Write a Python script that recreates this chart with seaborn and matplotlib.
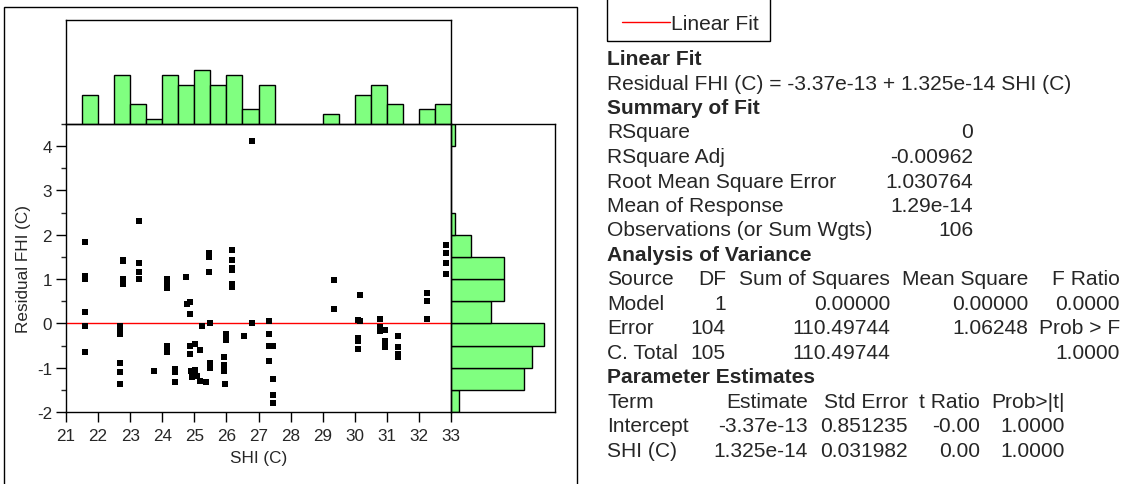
import numpy as np
import pandas as pd
import matplotlib
matplotlib.use("Agg")
import matplotlib.pyplot as plt
import seaborn as sns
from matplotlib.patches import Rectangle
from matplotlib.lines import Line2D
from matplotlib.ticker import MultipleLocator

# --- data ---
shi = [21.6, 21.6, 21.6, 21.6, 21.6, 21.6,
       22.78, 22.78, 22.78, 22.78, 22.67, 22.67, 22.67, 22.67, 22.67, 22.67,
       23.28, 23.28, 23.28, 23.28,
       23.74,
       24.14, 24.14, 24.14, 24.14, 24.14, 24.39, 24.39, 24.39,
       24.73, 24.76, 24.85, 24.85, 24.85, 24.85, 24.89, 24.94,
       25.02, 25.03, 25.07, 25.17, 25.18, 25.25, 25.37, 25.45, 25.45, 25.45,
       25.49, 25.49, 25.49,
       25.94, 25.94, 25.94, 25.96, 25.99, 25.99, 25.99,
       26.18, 26.18, 26.18, 26.18, 26.18, 26.18,
       26.54, 26.8, 26.8,
       27.34, 27.34, 27.34, 27.34, 27.44, 27.44, 27.44, 27.44,
       29.34, 29.34,
       30.09, 30.09, 30.09, 30.09, 30.15, 30.15,
       30.8, 30.8, 30.8, 30.8, 30.94, 30.94, 30.94,
       31.34, 31.34, 31.34, 31.34,
       32.24, 32.24, 32.24,
       32.84, 32.84, 32.84, 32.84]
resid = [1.84, 1.08, 1.0, 0.26, -0.07, -0.64,
         1.42, 1.40, 1.0, 0.9, -0.06, -0.11, -0.25, -0.9, -1.09, -1.37,
         2.31, 1.37, 1.15, 1.01,
         -1.08,
         1.01, 0.88, 0.8, -0.5, -0.64, -1.04, -1.09, -1.33,
         1.05, 0.44, 0.48, 0.22, -0.5, -0.68, -1.07, -1.22,
         -0.47, -1.05, -1.18, -0.61, -1.3, -0.07, -1.33, 1.59, 1.49, 1.15,
         0.0, -0.9, -1.0,
         -0.76, -0.94, -1.07, -1.37, -0.23, -0.32, -0.38,
         1.66, 1.44, 1.25, 1.21, 0.88, 0.82,
         -0.28, 4.11, 0.0,
         0.05, -0.25, -0.5, -0.86, -0.5, -1.26, -1.61, -1.8,
         0.97, 0.33,
         0.07, -0.32, -0.4, -0.57, 0.65, 0.05,
         0.11, -0.08, -0.12, -0.17, -0.14, -0.4, -0.53,
         -0.28, -0.53, -0.68, -0.76,
         0.69, 0.51, 0.11,
         1.77, 1.59, 1.37, 1.12]

# marginal histogram counts (bin start, 0.5 wide)
shi_bin_start = [21.5, 22.5, 23.0, 23.5, 24.0, 24.5, 25.0, 25.5, 26.0, 26.5, 27.0,
                 29.0, 30.0, 30.5, 31.0, 32.0, 32.5]
shi_counts = [6, 10, 4, 1, 10, 8, 11, 8, 10, 3, 8, 2, 6, 8, 4, 3, 4]
resid_bin_start = [-2.0, -1.5, -1.0, -0.5, 0.0, 0.5, 1.0, 1.5, 2.0, 4.0]
resid_counts = [2, 18, 20, 23, 10, 13, 13, 5, 1, 1]

intercept = -3.37e-13
slope = 1.325e-14
x_range = [21, 33]
y_range = [-2, 4.5]

summary_labels = ["RSquare", "RSquare Adj", "Root Mean Square Error",
                  "Mean of Response", "Observations (or Sum Wgts)"]
summary_values = ["0", "-0.00962", "1.030764", "1.29e-14", "106"]
anova_header = ["Source", "DF", "Sum of Squares", "Mean Square", "F Ratio"]
anova_rows = [["Model", "1", "0.00000", "0.00000", "0.0000"],
              ["Error", "104", "110.49744", "1.06248", "Prob > F"],
              ["C. Total", "105", "110.49744", "", "1.0000"]]
param_header = ["Term", "Estimate", "Std Error", "t Ratio", "Prob>|t|"]
param_rows = [["Intercept", "-3.37e-13", "0.851235", "-0.00", "1.0000"],
              ["SHI (C)", "1.325e-14", "0.031982", "0.00", "1.0000"]]

# --- style ---
sns.set_style("white")
plt.rcParams['font.family'] = ['Liberation Sans', 'DejaVu Sans']
plt.rcParams['axes.unicode_minus'] = False

W, H = 1127, 485
fig = plt.figure(figsize=(W / 100, H / 100), dpi=100)


def box(x0, y0, x1, y1):
    # pixel box (top-left origin) -> figure fraction rect
    return [x0 / W, 1 - y1 / H, (x1 - x0) / W, (y1 - y0) / H]


def pt(x, y):
    return x / W, 1 - y / H


green = "#80ff80"
lw = 1.0

ax = fig.add_axes(box(66, 125, 451, 413))
ax_top = fig.add_axes(box(66, 21, 451, 125))
ax_right = fig.add_axes(box(451, 125, 555, 413))

# main scatter
df = pd.DataFrame({"SHI (C)": shi, "Residual FHI (C)": resid})
sns.scatterplot(data=df, x="SHI (C)", y="Residual FHI (C)", marker="s", s=13,
                color="black", linewidth=0, ax=ax, zorder=3)
fit_x = np.array(x_range, dtype=float)
sns.lineplot(x=fit_x, y=intercept + slope * fit_x, color="red", linewidth=1.0,
             ax=ax, zorder=2)
ax.set_xlim(x_range)
ax.set_ylim(y_range)
ax.xaxis.set_major_locator(MultipleLocator(1))
ax.yaxis.set_major_locator(MultipleLocator(1))
ax.yaxis.set_minor_locator(MultipleLocator(0.5))
ax.tick_params(axis="both", which="major", direction="out", length=7, width=lw,
               labelsize=12.3, color="black", pad=3)
ax.tick_params(axis="x", which="major", pad=4.5)
ax.tick_params(axis="y", which="minor", direction="out", length=3.6, width=lw,
               left=True)
ax.tick_params(axis="x", bottom=True)
ax.tick_params(axis="y", left=True)
ax.set_xlabel("SHI (C)", fontsize=12.3, labelpad=5)
ax.set_ylabel("Residual FHI (C)", fontsize=12.3, labelpad=4)
for s in ax.spines.values():
    s.set_color("black")
    s.set_linewidth(lw)

# top marginal histogram
top_df = pd.DataFrame({"mid": [b + 0.25 for b in shi_bin_start], "n": shi_counts})
sns.histplot(data=top_df, x="mid", weights="n", binwidth=0.5, binrange=(21, 33),
             color=green, edgecolor="black", linewidth=1.0, alpha=1, ax=ax_top)
ax_top.set_xlim(x_range)
ax_top.set_ylim(0, 21.2)
ax_top.set_xticks([])
ax_top.set_yticks([])
ax_top.set_xlabel("")
ax_top.set_ylabel("")
for s in ax_top.spines.values():
    s.set_color("black")
    s.set_linewidth(lw)

# right marginal histogram
right_df = pd.DataFrame({"mid": [b + 0.25 for b in resid_bin_start], "n": resid_counts})
sns.histplot(data=right_df, y="mid", weights="n", binwidth=0.5, binrange=(-2, 4.5),
             color=green, edgecolor="black", linewidth=1.0, alpha=1, ax=ax_right)
ax_right.set_ylim(y_range)
ax_right.set_xlim(0, 25.7)
ax_right.set_xticks([])
ax_right.set_yticks([])
ax_right.set_xlabel("")
ax_right.set_ylabel("")
for s in ax_right.spines.values():
    s.set_color("black")
    s.set_linewidth(lw)

# outer frame of the plot panel
x0, y0 = pt(4, 8)
x1, y1 = pt(577, 495)
fig.add_artist(Rectangle((x0, y1), x1 - x0, y0 - y1, transform=fig.transFigure,
                         fill=False, edgecolor="black", linewidth=lw))

# legend box (top edge runs off the image)
x0, y0 = pt(607, -10)
x1, y1 = pt(770, 42)
fig.add_artist(Rectangle((x0, y1), x1 - x0, y0 - y1, transform=fig.transFigure,
                         fill=False, edgecolor="black", linewidth=lw))
lx0, ly = pt(622, 23)
lx1, _ = pt(670, 23)
fig.add_artist(Line2D([lx0, lx1], [ly, ly], transform=fig.transFigure,
                      color="red", linewidth=1.0))
fs = 15.1
fig.text(*pt(671, 24), "Linear Fit", fontsize=fs, va="center", ha="left")

# report text
row_h = 24.5
row0 = 59.5


def row_y(i):
    return row0 + row_h * i


def put(x, i, s, ha="left", bold=False):
    fig.text(*pt(x, row_y(i)), s, fontsize=fs, va="center", ha=ha,
             fontweight="bold" if bold else "normal")


left = 607
put(left, 0, "Linear Fit", bold=True)
put(left, 1, "Residual FHI (C) = -3.37e-13 + 1.325e-14 SHI (C)")
put(left, 2, "Summary of Fit", bold=True)
for k, (lab, val) in enumerate(zip(summary_labels, summary_values)):
    put(left, 3 + k, lab)
    put(973, 3 + k, val, ha="right")

put(left, 8, "Analysis of Variance", bold=True)
anova_right = [726, 890, 1028, 1120]
put(left, 9, anova_header[0])
for j, s in enumerate(anova_header[1:]):
    put(anova_right[j], 9, s, ha="right")
for r, row in enumerate(anova_rows):
    put(left, 10 + r, row[0])
    for j, s in enumerate(row[1:]):
        if s:
            put(anova_right[j], 10 + r, s, ha="right")

put(left, 13, "Parameter Estimates", bold=True)
param_right = [808, 908, 980, 1065]
put(left, 14, param_header[0])
for j, s in enumerate(param_header[1:]):
    put(param_right[j], 14, s, ha="right")
for r, row in enumerate(param_rows):
    put(left, 15 + r, row[0])
    for j, s in enumerate(row[1:]):
        put(param_right[j], 15 + r, s, ha="right")

fig.savefig("out.png", dpi=100)
